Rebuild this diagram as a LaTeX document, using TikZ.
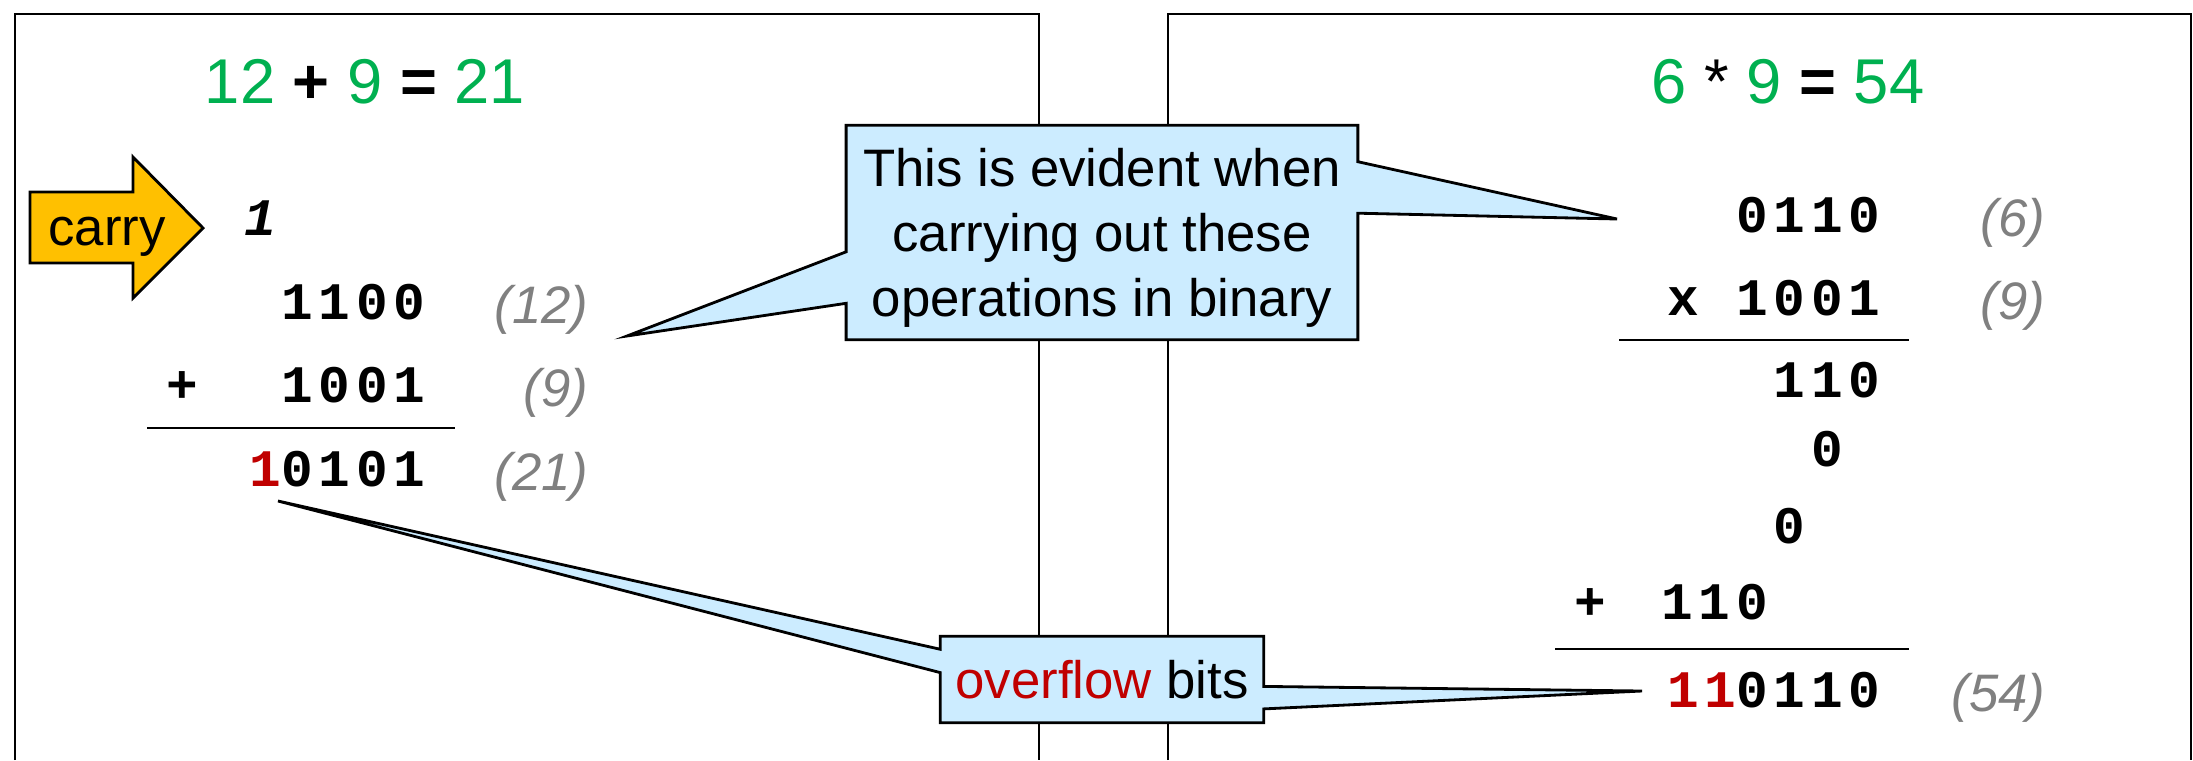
\documentclass[tikz,border=0pt]{standalone}
\usepackage{fontspec}
\setmainfont{Liberation Sans}
\newfontfamily\bitfont[LetterSpace=11]{Liberation Mono}
\usetikzlibrary{calc,backgrounds}

\definecolor{sumgreen}{HTML}{00B050}
\definecolor{overred}{HTML}{C00000}
\definecolor{valgray}{HTML}{808080}
\definecolor{bubbleblue}{HTML}{CCECFF}
\definecolor{carryorange}{HTML}{FFC000}

\newcommand{\bits}{\bitfont\bfseries\fontsize{15}{18}\selectfont}
\newcommand{\ov}[1]{\textcolor{overred}{#1}}
\newcommand{\gr}[1]{\textcolor{sumgreen}{#1}}

\tikzset{
  panel/.style={draw=black, line width=0.6pt},
  title/.style={font=\fontsize{18}{21}\selectfont, anchor=base, inner sep=0pt},
  bitrow/.style={font=\bits, anchor=base east, inner sep=0pt},
  value/.style={font=\fontsize{15}{18}\selectfont\itshape, text=valgray, anchor=base east, inner sep=0pt},
  rule/.style={line width=0.8pt},
  bubble/.style={fill=bubbleblue, draw=black, line width=0.8pt, line join=miter},
  bubbletext/.style={font=\fontsize{15}{18.4}\selectfont, align=center, inner sep=0pt},
  carryshape/.style={fill=carryorange, draw=black, line width=0.8pt},
}

\begin{document}
\begin{tikzpicture}[x=0.01cm, y=-0.01cm]
  \useasboundingbox (0,0) rectangle (2193,760);

  % titles
  \node[title] (addtitle) at (365,103) {\gr{12} \textbf{+} \gr{9} \textbf{=} \gr{21}};
  \node[title] (multitle) at (1788,103) {\gr{6} * \gr{9} \textbf{=} \gr{54}};

  % addition
  \node[font=\fontsize{15}{18}\selectfont, anchor=base, inner sep=0pt] (carry) at (107,245) {carry};
  \node[bitrow, font=\bits\itshape] (carrybit) at (277,235) {1};
  \node[bitrow] (augend) at (426,319) {1100};
  \node[bitrow] (addend) at (426,402) {1001};
  \node[bitrow, anchor=base] (addplus) at (182,402) {+};
  \node[bitrow] (sum) at (426,486) {\ov{1}0101};
  \draw[rule] (147,428) -- (455,428);

  \node[value] (augendval) at (589,323) {(12)};
  \node[value] (addendval) at (589,406) {(9)};
  \node[value] (sumval) at (589,490) {(21)};

  % multiplication
  \node[bitrow] (mcand) at (1881,232) {0110};
  \node[bitrow] (mplier) at (1881,315) {x 1001};
  \draw[rule] (1619,340) -- (1909,340);
  \node[bitrow] (part1) at (1881,397) {110};
  \node[bitrow] (part2) at (1843.5,466) {0};
  \node[bitrow] (part3) at (1806,543) {0};
  \node[bitrow] (part4) at (1768.5,619) {110};
  \node[bitrow, anchor=base] (mulplus) at (1590,619) {+};
  \draw[rule] (1555,649) -- (1909,649);
  \node[bitrow] (product) at (1881,707) {\ov{11}0110};

  \node[value] (mcandval) at (2046,236) {(6)};
  \node[value] (mplierval) at (2046,319) {(9)};
  \node[value] (productval) at (2046,711) {(54)};

  % callouts
  \node[bubbletext, minimum width=5.1cm, minimum height=2.13cm, text depth=0pt] (evident) at (1102,232.5)
    {This is evident when\\carrying out these\\operations in binary};
  \node[bubbletext, minimum width=3.22cm, minimum height=0.85cm] (overflow) at (1102,679.5)
    {\ov{overflow} bits};

  \coordinate (addtip) at (627,336);
  \coordinate (multip) at (1617,219);
  \coordinate (sumtip) at (278,501);
  \coordinate (prodtip) at (1642,691);

  \begin{scope}[on background layer]
    \draw[panel] (15,760) -- (15,14) -- (1039,14) -- (1039,760);
    \draw[panel] (1168,760) -- (1168,14) -- (2191,14) -- (2191,760);

    \draw[carryshape] (30,192) -- (133,192) -- (133,157) -- (203,228)
      -- (133,298) -- (133,263) -- (30,263) -- cycle;

    \draw[bubble] (evident.north west) -- (evident.north east)
      -- ($(evident.north east)!0.17!(evident.south east)$) -- (multip)
      -- ($(evident.north east)!0.41!(evident.south east)$) -- (evident.south east)
      -- (evident.south west)
      -- ($(evident.north west)!0.83!(evident.south west)$) -- (addtip)
      -- ($(evident.north west)!0.59!(evident.south west)$) -- cycle;

    \draw[bubble] (overflow.north west) -- (overflow.north east)
      -- ($(overflow.north east)!0.58!(overflow.south east)$) -- (prodtip)
      -- ($(overflow.north east)!0.84!(overflow.south east)$) -- (overflow.south east)
      -- (overflow.south west)
      -- ($(overflow.north west)!0.42!(overflow.south west)$) -- (sumtip)
      -- ($(overflow.north west)!0.15!(overflow.south west)$) -- cycle;
  \end{scope}
\end{tikzpicture}
\end{document}
